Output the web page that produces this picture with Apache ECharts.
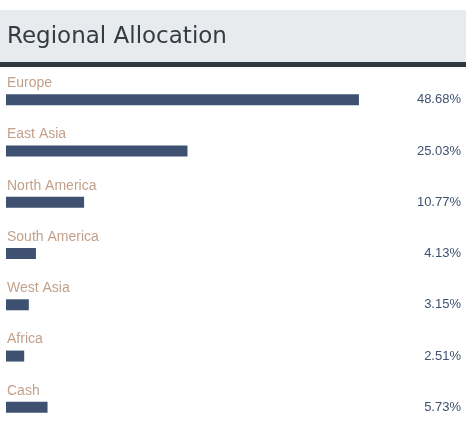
<!DOCTYPE html>
<html style="height: 100%">
<head>
    <meta charset="utf-8">
    <script src="https://cdn.jsdelivr.net/npm/echarts@6/dist/echarts.min.js"></script>
</head>
<body style="height: 100%; margin: 0; background: #ffffff">
    <div id="container" style="width: 466px; height: 433px"></div>
<script type="text/javascript">
    // data
    var regions = ['Europe', 'East Asia', 'North America', 'South America', 'West Asia', 'Africa', 'Cash'];
    var weights = [48.68, 25.03, 10.77, 4.13, 3.15, 2.51, 5.73];
    var valueLabels = weights.map(function (v) { return v.toFixed(2) + '%'; });

    var barColor = '#3e5170';
    var nameColor = '#c2a18c';

    var myChart = echarts.init(document.getElementById('container'));

    var option = {
        animation: false,
        title: {
            text: 'Regional Allocation',
            left: 7,
            top: 26,
            padding: 0,
            textStyle: {
                fontFamily: 'DejaVu Sans',
                fontSize: 23,
                fontWeight: 'normal',
                color: '#343b42'
            }
        },
        graphic: [
            { type: 'rect', z: -1, shape: { x: 0, y: 10, width: 466, height: 52 }, style: { fill: '#e7ebee' } },
            { type: 'rect', z: -1, shape: { x: 0, y: 62, width: 466, height: 5 }, style: { fill: '#30383f' } }
        ],
        grid: {
            left: 6,
            top: 74,
            width: 435,
            height: 364
        },
        xAxis: {
            type: 'value',
            min: 0,
            max: 60,
            show: false
        },
        yAxis: [{
            type: 'category',
            data: regions,
            inverse: true,
            axisLine: { show: false },
            axisTick: { show: false },
            axisLabel: { show: false }
        }, {
            type: 'category',
            position: 'right',
            data: valueLabels,
            inverse: true,
            axisLine: { show: false },
            axisTick: { show: false },
            axisLabel: {
                align: 'right',
                margin: 20,
                fontFamily: 'Liberation Sans',
                fontSize: 13,
                color: barColor
            }
        }],
        series: [{
            type: 'bar',
            data: weights,
            barWidth: 11,
            itemStyle: { color: barColor },
            label: {
                show: true,
                position: [1, -18],
                formatter: '{b}',
                fontFamily: 'Liberation Sans',
                fontSize: 14,
                color: nameColor
            }
        }]
    };

    myChart.setOption(option);
</script>
</body>
</html>
